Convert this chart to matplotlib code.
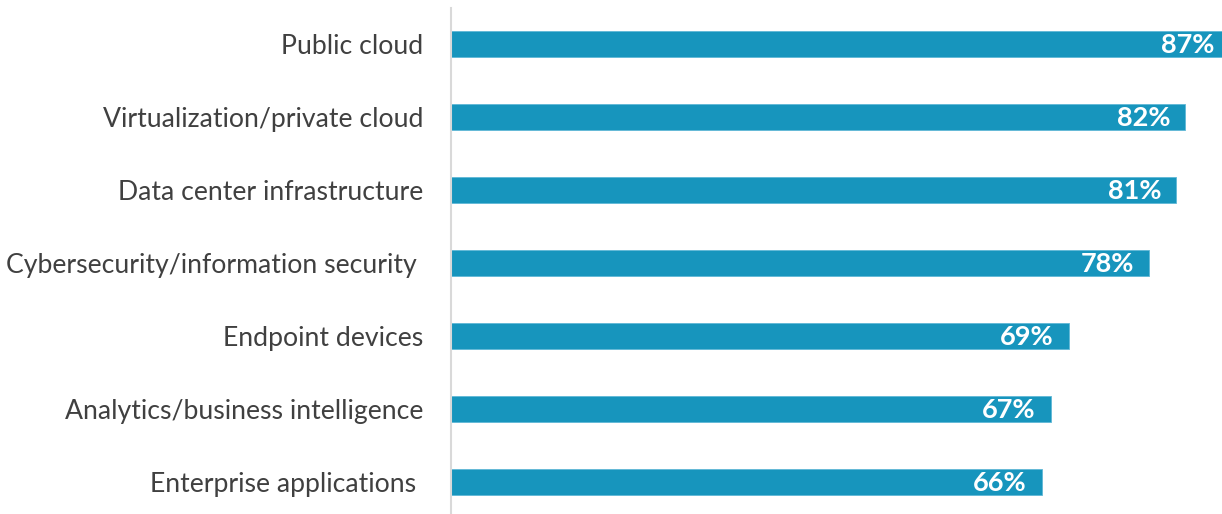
import matplotlib.pyplot as plt

categorias = ['Public cloud', 'Virtualization/private cloud', 'Data center infrastructure',
              'Cybersecurity/information security ', 'Endpoint devices',
              'Analytics/business intelligence', 'Enterprise applications ']
valores = [87, 82, 81, 78, 69, 67, 66]

cor_barra = '#1795bd'
cor_texto = '#404040'

plt.rcParams['font.family'] = ['Lato', 'DejaVu Sans']

fig = plt.figure(figsize=(12.22, 5.14), dpi=100)
W, H = 1222, 514
ax = fig.add_axes([451 / W, 0, 1 - 451 / W, (514 - 8) / H])

posicoes = list(range(len(categorias)))
ax.barh(posicoes, valores, height=0.36, color=cor_barra, edgecolor='#5fb8d6', linewidth=0.6)

for i, v in enumerate(valores):
    ax.annotate(f'{v}%', xy=(v, i), xytext=(-11, -1), textcoords='offset points',
                ha='right', va='center', color='white', fontsize=19.5, fontweight='bold',
                annotation_clip=False)

ax.set_xlim(0, 86.1)
ax.set_ylim(6.44, -0.49)
ax.set_yticks(posicoes)
ax.set_yticklabels(categorias, fontsize=19.2, color=cor_texto)
ax.tick_params(axis='y', length=0, pad=20)
ax.set_xticks([])

for lado in ['top', 'right', 'bottom']:
    ax.spines[lado].set_visible(False)
ax.spines['left'].set_color('#d9d9d9')
ax.spines['left'].set_linewidth(1.5)

plt.savefig('out.png', dpi=100)
plt.close()
